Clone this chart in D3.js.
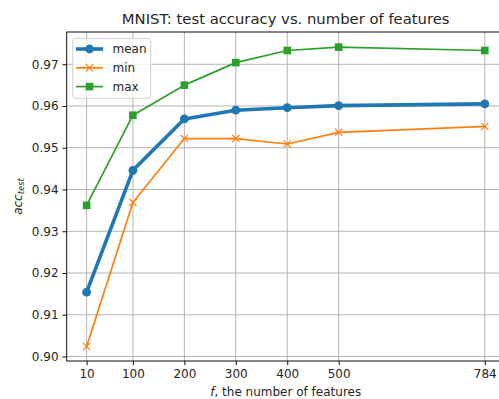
<!DOCTYPE html>
<html>
<head>
<meta charset="utf-8">
<script src="https://cdn.jsdelivr.net/npm/d3@7"></script>
<style>
  html, body { margin: 0; padding: 0; background: #fff; }
  svg { display: block; font-family: "DejaVu Sans", sans-serif; }
</style>
</head>
<body>
<svg id="chart" width="499" height="399"></svg>
<script>
// Number of features used by each run
const features = [10, 100, 200, 300, 400, 500, 784];

// Test accuracy summary over runs
const accMean = [0.9154, 0.9446, 0.9569, 0.9590, 0.9596, 0.9601, 0.9605];
const accMin  = [0.9024, 0.9369, 0.9522, 0.9522, 0.9509, 0.9537, 0.9551];
const accMax  = [0.9362, 0.9578, 0.9650, 0.9704, 0.9733, 0.9741, 0.9733];

const yTicks = [0.90, 0.91, 0.92, 0.93, 0.94, 0.95, 0.96, 0.97];

const svg = d3.select("#chart");

const plot = { left: 66.7, right: 504.7, top: 32, bottom: 361 };
const fs = 12;

const x = d3.scaleLinear().domain([-28.7, 822.7]).range([plot.left, plot.right]);
const y = d3.scaleLinear().domain([0.89892, 0.97773]).range([plot.bottom, plot.top]);

// grid
const grid = svg.append("g");
grid.selectAll("line.gx").data(features).join("line")
  .attr("x1", d => x(d)).attr("x2", d => x(d))
  .attr("y1", plot.top).attr("y2", plot.bottom)
  .attr("stroke", "#b0b0b0").attr("stroke-width", 0.95);
grid.selectAll("line.gy").data(yTicks).join("line")
  .attr("y1", d => y(d)).attr("y2", d => y(d))
  .attr("x1", plot.left).attr("x2", plot.right)
  .attr("stroke", "#b0b0b0").attr("stroke-width", 0.95);

// axes
const xAxis = d3.axisBottom(x).tickValues(features).tickSize(4.2).tickPadding(4)
  .tickFormat(d3.format("d"));
const yAxis = d3.axisLeft(y).tickValues(yTicks).tickSize(4.2).tickPadding(4)
  .tickFormat(d3.format(".2f"));

const gx = svg.append("g").attr("transform", `translate(0,${plot.bottom})`).call(xAxis);
const gy = svg.append("g").attr("transform", `translate(${plot.left},0)`).call(yAxis);
[gx, gy].forEach(g => {
  g.select(".domain").remove();
  g.selectAll(".tick line").attr("stroke", "#000").attr("stroke-width", 0.95);
  g.selectAll(".tick text").attr("fill", "#262626")
    .style("font-family", "DejaVu Sans").style("font-size", fs + "px");
});
gx.selectAll(".tick text").attr("dy", "0.76em");

// spines
svg.append("rect")
  .attr("x", plot.left).attr("y", plot.top)
  .attr("width", plot.right - plot.left).attr("height", plot.bottom - plot.top)
  .attr("fill", "none").attr("stroke", "#000").attr("stroke-width", 0.95);

// series
const series = [
  { name: "mean", values: accMean, color: "#1f77b4", width: 3.6, marker: "circle" },
  { name: "min",  values: accMin,  color: "#ff7f0e", width: 1.7, marker: "x" },
  { name: "max",  values: accMax,  color: "#2ca02c", width: 1.7, marker: "square" }
];

const line = d3.line().x(d => x(d[0])).y(d => y(d[1]));

function drawMarker(g, type, cx, cy, color) {
  if (type === "circle") {
    g.append("circle").attr("cx", cx).attr("cy", cy).attr("r", 4.4).attr("fill", color);
  } else if (type === "square") {
    g.append("rect").attr("x", cx - 3.8).attr("y", cy - 3.8)
      .attr("width", 7.6).attr("height", 7.6).attr("fill", color);
  } else {
    const s = 3.6;
    g.append("path")
      .attr("d", `M${cx - s},${cy - s}L${cx + s},${cy + s}M${cx - s},${cy + s}L${cx + s},${cy - s}`)
      .attr("stroke", color).attr("stroke-width", 1.2).attr("fill", "none");
  }
}

const marks = svg.append("g");
series.forEach(s => {
  const pts = features.map((f, i) => [f, s.values[i]]);
  marks.append("path").datum(pts).attr("d", line)
    .attr("fill", "none").attr("stroke", s.color).attr("stroke-width", s.width)
    .attr("stroke-linejoin", "round").attr("stroke-linecap", "square");
  const mg = marks.append("g");
  pts.forEach(p => drawMarker(mg, s.marker, x(p[0]), y(p[1]), s.color));
});

// legend
const leg = svg.append("g");
leg.append("rect").attr("x", 72.7).attr("y", 38.3).attr("width", 78).attr("height", 60)
  .attr("rx", 2.5).attr("fill", "#fff").attr("fill-opacity", 0.8)
  .attr("stroke", "#cccccc").attr("stroke-width", 0.95);
series.forEach((s, i) => {
  const cy = 49 + i * 18.8;
  leg.append("line").attr("x1", 76).attr("x2", 103)
    .attr("y1", cy).attr("y2", cy).attr("stroke", s.color).attr("stroke-width", s.width);
  drawMarker(leg, s.marker, 89.5, cy, s.color);
  leg.append("text").attr("x", 112.5).attr("y", cy).attr("dy", "0.36em")
    .attr("fill", "#262626").style("font-size", fs + "px").text(s.name);
});

// title
svg.append("text").attr("x", (plot.left + plot.right) / 2).attr("y", 24)
  .attr("text-anchor", "middle").attr("fill", "#262626").style("font-size", "14.8px")
  .text("MNIST: test accuracy vs. number of features");

// x label
const xl = svg.append("text").attr("x", (plot.left + plot.right) / 2).attr("y", 396)
  .attr("text-anchor", "middle").attr("fill", "#262626").style("font-size", fs + "px");
xl.append("tspan").style("font-style", "italic").text("f");
xl.append("tspan").text(", the number of features");

// y label
const yl = svg.append("text")
  .attr("transform", `translate(22,${(plot.top + plot.bottom) / 2}) rotate(-90)`)
  .attr("text-anchor", "middle").attr("fill", "#262626")
  .style("font-size", fs + "px").style("font-style", "italic");
yl.append("tspan").text("acc");
yl.append("tspan").attr("dy", 2.4).style("font-size", "8.4px").text("test");
</script>
</body>
</html>
